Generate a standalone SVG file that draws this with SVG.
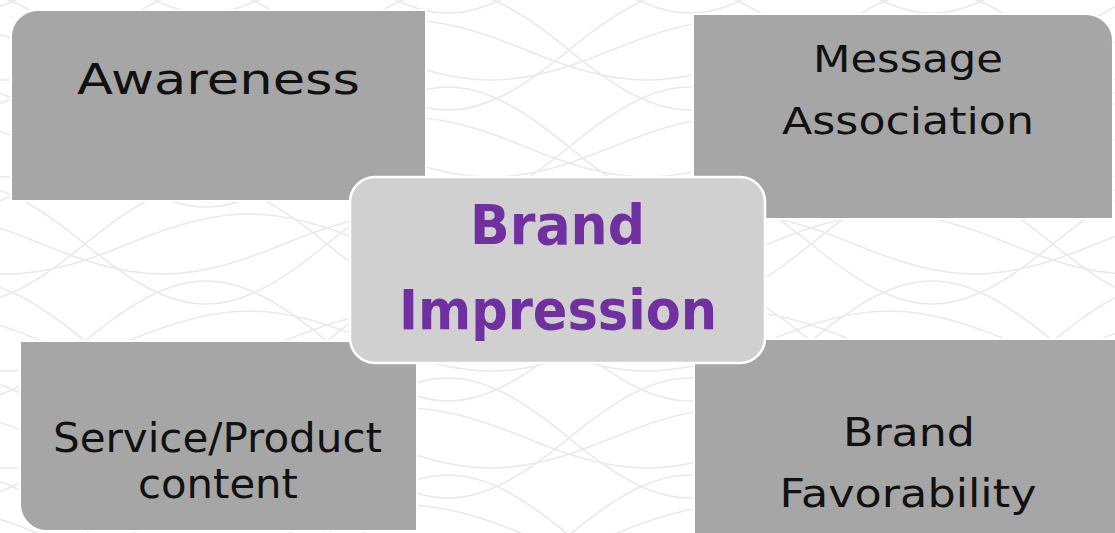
<svg xmlns="http://www.w3.org/2000/svg" width="1115" height="533" viewBox="0 0 1115 533">
<style>
.bg-line{fill:none;stroke:#e9e9e9;stroke-width:1.6}
.box{fill:#a6a6a6;stroke:#ffffff;stroke-width:2}
.center{fill:#d0d0d0;stroke:#ffffff;stroke-width:2.5}
.lbl{font-family:"DejaVu Sans","Liberation Sans",sans-serif;fill:#111111;text-anchor:middle;font-variant-ligatures:none}
.main{font-family:"DejaVu Sans","Liberation Sans",sans-serif;font-weight:bold;fill:#7030a0;text-anchor:middle;font-variant-ligatures:none}
</style>
<defs>
<pattern id="waves" x="0" y="0" width="484" height="97" patternUnits="userSpaceOnUse" patternTransform="translate(85,50)">
<g id="wrow">
<path class="bg-line" d="M-242,0 C-145,-80 -97,-80 0,0 C97,80 145,80 242,0 C339,-80 387,-80 484,0 C581,80 629,80 726,0"/>
<path class="bg-line" d="M-242,0 C-145,80 -97,80 0,0 C97,-80 145,-80 242,0 C339,80 387,80 484,0 C581,-80 629,-80 726,0"/>
<path class="bg-line" d="M-199,0 C-102,40 -54,40 43,0 C140,-40 188,-40 285,0 C382,40 430,40 527,0"/>
<path class="bg-line" d="M-285,0 C-188,-40 -140,-40 -43,0 C54,40 102,40 199,0 C296,-40 344,-40 441,0 C538,40 586,40 683,0"/>
</g>
<use href="#wrow" y="97"/>
<use href="#wrow" y="-97"/>
</pattern>
</defs>
<rect x="0" y="0" width="1115" height="533" fill="#ffffff"/>
<rect x="0" y="0" width="1115" height="533" fill="url(#waves)"/>

<g id="node-awareness">
<path class="box" d="M11,37 A27,27 0 0 1 38,10 L426,10 L426,201 L11,201 Z"/>
<text class="lbl" x="218.5" y="94" font-size="42" textLength="283" lengthAdjust="spacingAndGlyphs">Awareness</text>
</g>

<g id="node-message">
<path class="box" d="M693,14 L1086,14 A27,27 0 0 1 1113,41 L1113,219 L693,219 Z"/>
<text class="lbl" x="908" y="72" font-size="38" textLength="190" lengthAdjust="spacingAndGlyphs">Message</text>
<text class="lbl" x="908" y="134" font-size="38" textLength="252" lengthAdjust="spacingAndGlyphs">Association</text>
</g>

<g id="node-service">
<path class="box" d="M20,341 L417,341 L417,531 L47,531 A27,27 0 0 1 20,504 Z"/>
<text class="lbl" x="217.5" y="452" font-size="40" textLength="329" lengthAdjust="spacingAndGlyphs">Service/Product</text>
<text class="lbl" x="218" y="498" font-size="40" textLength="160" lengthAdjust="spacingAndGlyphs">content</text>
</g>

<g id="node-favorability">
<path class="box" d="M694,339 L1125,339 L1125,545 L694,545 Z"/>
<text class="lbl" x="909" y="446" font-size="39" textLength="132" lengthAdjust="spacingAndGlyphs">Brand</text>
<text class="lbl" x="908" y="507" font-size="39" textLength="257" lengthAdjust="spacingAndGlyphs">Favorability</text>
</g>

<g id="node-center">
<rect class="center" x="350" y="177" width="415" height="186" rx="25" ry="25"/>
<text class="main" x="557.5" y="244" font-size="56" textLength="175" lengthAdjust="spacingAndGlyphs">Brand</text>
<text class="main" x="558" y="329" font-size="56" textLength="318" lengthAdjust="spacingAndGlyphs">Impression</text>
</g>

<g id="connectors"></g>
</svg>
